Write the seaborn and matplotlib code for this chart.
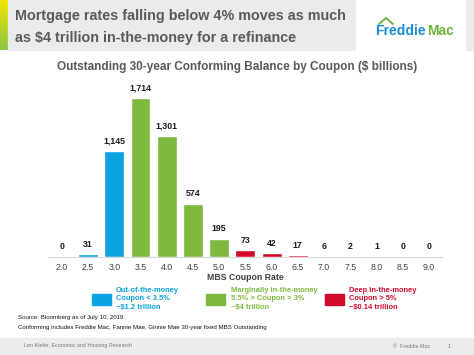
import matplotlib
matplotlib.use("Agg")
import matplotlib.pyplot as plt
from matplotlib.patches import Rectangle
import numpy as np
import pandas as pd
import seaborn as sns

coupons = ["2.0", "2.5", "3.0", "3.5", "4.0", "4.5", "5.0", "5.5",
           "6.0", "6.5", "7.0", "7.5", "8.0", "8.5", "9.0"]
balance = [0, 31, 1145, 1714, 1301, 574, 195, 73, 42, 17, 6, 2, 1, 0, 0]
group = ["out", "out", "out", "marg", "marg", "marg", "marg", "deep",
         "deep", "deep", "deep", "deep", "deep", "deep", "deep"]

BLUE = "#0aa2e0"
GREEN = "#7cb93e"
RED = "#d20a2a"
palette = {"out": BLUE, "marg": GREEN, "deep": RED}

df = pd.DataFrame({"coupon": coupons, "balance": balance, "group": group})

sns.set_theme(style="white")
plt.rcParams["font.family"] = ["Liberation Sans", "DejaVu Sans"]

W, H = 474, 355
fig = plt.figure(figsize=(W / 100, H / 100), dpi=100)

def fx(px):
    return px / W

def fy(py):
    return 1 - py / H

# header band
fig.patches.append(Rectangle((fx(8), fy(50)), fx(347), 50 / H, transform=fig.transFigure,
                             color="#ebebeb", zorder=0))
fig.patches.append(Rectangle((fx(466), fy(50)), fx(8), 50 / H, transform=fig.transFigure,
                             color="#ebebeb", zorder=0))
grad = fig.add_axes([0, fy(50), fx(8), 50 / H])
grad.imshow(np.linspace(0, 1, 50).reshape(-1, 1), aspect="auto",
            cmap=matplotlib.colors.LinearSegmentedColormap.from_list("g", ["#f2e600", "#8cc63f"]))
grad.axis("off")

fig.text(fx(15), fy(16), "Mortgage rates falling below 4% moves as much",
         fontsize=10.4, fontweight="bold", color="#5a5a5a", va="center")
fig.text(fx(15), fy(38), "as $4 trillion in-the-money for a refinance",
         fontsize=10.4, fontweight="bold", color="#5a5a5a", va="center")

# logo: place "Mac" right after "Freddie"
t1 = fig.text(fx(375), fy(31), "Freddie", fontsize=10, fontweight="bold", color="#1a8fd6",
              va="center")
bb = t1.get_window_extent(renderer=fig.canvas.get_renderer())
fig.text(bb.x1 / W + fx(1.5), fy(31), "Mac", fontsize=10, fontweight="bold", color="#6fb43f",
         va="center")
fig.lines.append(plt.Line2D([fx(379), fx(386), fx(393)], [fy(24), fy(18), fy(24)],
                            transform=fig.transFigure, color="#6fb43f", lw=1.4))

fig.text(0.5, fy(67), "Outstanding 30-year Conforming Balance by Coupon ($ billions)",
         fontsize=8.5, fontweight="bold", color="#595959", ha="center", va="center")

# chart
ax = fig.add_axes([fx(48), fy(257), fx(394), 177 / H])
sns.barplot(data=df, x="coupon", y="balance", hue="group", palette=palette,
            dodge=False, width=0.76, saturation=1, legend=False, ax=ax)
ax.set_ylim(0, 1908)
ax.set_xlim(-0.53, 14.5)
for i, v in enumerate(balance):
    ax.annotate(f"{v:,}", (i, v), xytext=(0, 4), textcoords="offset points",
                ha="center", va="bottom", fontsize=6.3, fontweight="bold", color="#1a1a1a")
ax.set_yticks([])
ax.set_ylabel("")
ax.set_xlabel("MBS Coupon Rate", fontsize=6.3, fontweight="bold", color="#404040", labelpad=1)
ax.tick_params(axis="x", length=0, labelsize=6.3, labelcolor="#404040", pad=4)
for s in ["top", "left", "right"]:
    ax.spines[s].set_visible(False)
ax.spines["bottom"].set_color("#d9d9d9")
ax.spines["bottom"].set_linewidth(0.8)
ax.patch.set_alpha(0)

# legend
legend_items = [
    (92, 116, BLUE, ["Out-of-the-money", "Coupon < 3.5%", "~$1.2 trillion"]),
    (206, 231, GREEN, ["Marginally in-the-money", "5.5% > Coupon > 3%", "~$4 trillion"]),
    (325, 349, RED, ["Deep in-the-money", "Coupon > 5%", "~$0.14 trillion"]),
]
for px, tx, col, lines in legend_items:
    fig.patches.append(Rectangle((fx(px), fy(305)), fx(19), 11 / H,
                                 transform=fig.transFigure, color=col))
    fig.text(fx(tx), fy(299), "\n".join(lines), fontsize=5.4, fontweight="bold",
             color=col, va="center", linespacing=1.4)

fig.text(fx(18), fy(318), "Source: Bloomberg as of July 10, 2019", fontsize=4.4,
         color="#111111", va="center")
fig.text(fx(18), fy(327),
         "Conforming includes Freddie Mac, Fannie Mae, Ginnie Mae 30-year fixed MBS Outstanding",
         fontsize=4.4, color="#111111", va="center")

# footer band
fig.patches.append(Rectangle((0, fy(354)), 1, 16 / H, transform=fig.transFigure,
                             color="#ececec", zorder=0))
fig.text(fx(24), fy(346), "Len Kiefer, Economic and Housing Research", fontsize=3.9,
         color="#777777", va="center")
fig.text(fx(393), fy(346), "\u00a9  Freddie Mac", fontsize=3.9, color="#777777", va="center")
fig.text(fx(448), fy(346), "1", fontsize=3.9, color="#777777", va="center")

fig.savefig("out.png", dpi=100)
